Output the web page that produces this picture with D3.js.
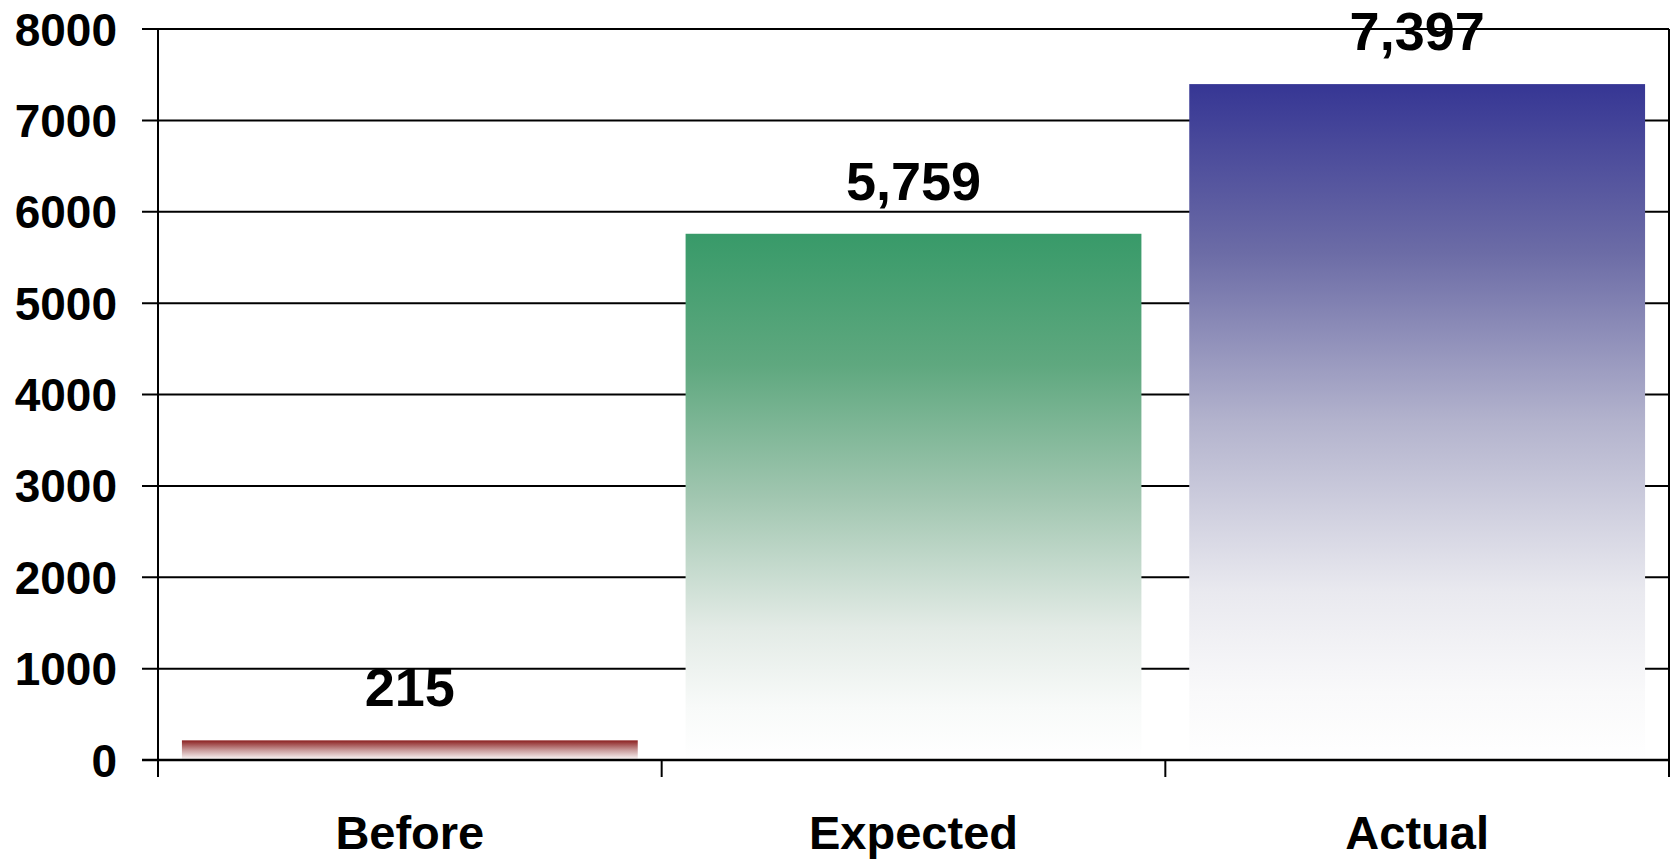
<!DOCTYPE html>
<html>
<head>
<meta charset="utf-8">
<script src="https://cdn.jsdelivr.net/npm/d3@7"></script>
<style>
  html, body { margin: 0; padding: 0; background: #ffffff; }
  svg { display: block; }
  text { font-family: "Liberation Sans", Arial, sans-serif; font-weight: bold; fill: #000; }
</style>
</head>
<body>
<svg id="chart" width="1674" height="859"></svg>
<script>
const categories = ["Before", "Expected", "Actual"];
const values = [215, 5759, 7397];
const valueLabels = ["215", "5,759", "7,397"];
const yTicks = [0, 1000, 2000, 3000, 4000, 5000, 6000, 7000, 8000];
const gradientStops = [
  [[0, "#8b2020"], [0.5, "#c99b9b"], [1, "#ffffff"]],
  [[0, "#389a69"], [0.25, "#5fa87f"], [0.5, "#a1c6b0"], [0.75, "#e3ebe6"], [0.9, "#f8faf9"], [1, "#ffffff"]],
  [[0, "#363694"], [0.25, "#6c6ca6"], [0.5, "#b3b3cd"], [0.75, "#e9e9ef"], [0.9, "#f9f9fa"], [1, "#ffffff"]]
];

const W = 1674, H = 859;
const margin = { top: 29, right: 5, bottom: 99, left: 158 };
const svg = d3.select("#chart");

const x = d3.scaleBand()
  .domain(categories)
  .range([margin.left, W - margin.right])
  .paddingInner(0.095)
  .paddingOuter(0.0475);

const y = d3.scaleLinear()
  .domain([0, 8000])
  .range([H - margin.bottom, margin.top]);

const x0 = margin.left, x1 = W - margin.right;
const base = y(0);

// gradients
const defs = svg.append("defs");
gradientStops.forEach((stops, i) => {
  const g = defs.append("linearGradient")
    .attr("id", "grad" + i)
    .attr("x1", 0).attr("y1", 0).attr("x2", 0).attr("y2", 1);
  stops.forEach(s => g.append("stop").attr("offset", s[0]).attr("stop-color", s[1]));
});

// gridlines
svg.append("g").selectAll("line").data(yTicks).join("line")
  .attr("x1", x0 - 16).attr("x2", x1)
  .attr("y1", d => y(d)).attr("y2", d => y(d))
  .attr("stroke", "#000").attr("stroke-width", 2);

// bars
svg.append("g").selectAll("rect").data(values).join("rect")
  .attr("x", (d, i) => x(categories[i]))
  .attr("width", x.bandwidth())
  .attr("y", d => y(d))
  .attr("height", d => base - y(d))
  .attr("fill", (d, i) => `url(#grad${i})`);

// baseline redraw
svg.append("line")
  .attr("x1", x0 - 16).attr("x2", x1)
  .attr("y1", base).attr("y2", base)
  .attr("stroke", "#000").attr("stroke-width", 2.5);

// left axis line and right border
svg.append("line")
  .attr("x1", x0).attr("x2", x0)
  .attr("y1", margin.top).attr("y2", base + 17)
  .attr("stroke", "#000").attr("stroke-width", 2);
svg.append("line")
  .attr("x1", x1).attr("x2", x1)
  .attr("y1", margin.top).attr("y2", base + 17)
  .attr("stroke", "#000").attr("stroke-width", 2);

// x category boundary ticks
const bounds = d3.range(categories.length + 1).map(i => x0 + i * (x1 - x0) / categories.length);
svg.append("g").selectAll("line").data(bounds).join("line")
  .attr("x1", d => d).attr("x2", d => d)
  .attr("y1", base).attr("y2", base + 17)
  .attr("stroke", "#000").attr("stroke-width", 2);

// y tick labels
svg.append("g").selectAll("text").data(yTicks).join("text")
  .attr("x", x0 - 41)
  .attr("y", d => y(d) + 16.5)
  .attr("text-anchor", "end")
  .attr("font-size", 46)
  .text(d => String(d));

// x labels
svg.append("g").selectAll("text").data(categories).join("text")
  .attr("x", d => x(d) + x.bandwidth() / 2)
  .attr("y", 849)
  .attr("text-anchor", "middle")
  .attr("font-size", 47)
  .text(d => d);

// value labels
svg.append("g").selectAll("text").data(values).join("text")
  .attr("x", (d, i) => x(categories[i]) + x.bandwidth() / 2)
  .attr("y", d => y(d) - 34)
  .attr("text-anchor", "middle")
  .attr("font-size", 54)
  .text((d, i) => valueLabels[i]);
</script>
</body>
</html>
